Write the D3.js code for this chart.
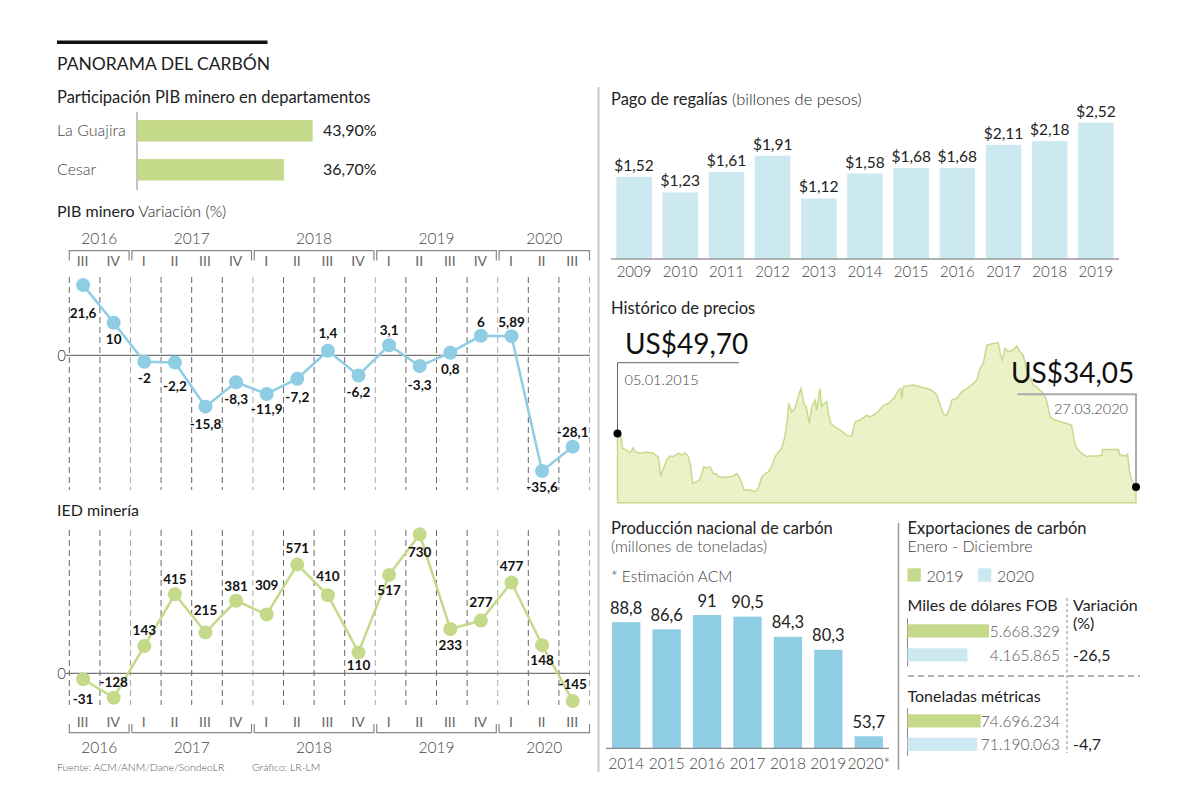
<!DOCTYPE html>
<html>
<head>
<meta charset="utf-8">
<script src="https://cdn.jsdelivr.net/npm/d3@7"></script>
<style>
  body { margin: 0; background: #fff; }
  svg { font-family: Lato, "Open Sans", sans-serif; }
</style>
</head>
<body>
<svg id="chart" width="1200" height="810"></svg>
<script>
// ---- data ----
const departamentos = ["La Guajira", "Cesar"]
const participacion = [43.9, 36.7]

const quarters = ["III","IV","I","II","III","IV","I","II","III","IV","I","II","III","IV","I","II","III"]
const years = ["2016", "2017", "2018", "2019", "2020"]
const yearQuarters = [2, 4, 4, 4, 3]
const pibVar = [21.6, 10, -2, -2.2, -15.8, -8.3, -11.9, -7.2, 1.4, -6.2, 3.1, -3.3, 0.8, 6, 5.89, -35.6, -28.1]
const iedValues = [-31, -128, 143, 415, 215, 381, 309, 571, 410, 110, 517, 730, 233, 277, 477, 148, -145]

const regaliasYears = ["2009","2010","2011","2012","2013","2014","2015","2016","2017","2018","2019"]
const regaliasValues = [1.52, 1.23, 1.61, 1.91, 1.12, 1.58, 1.68, 1.68, 2.11, 2.18, 2.52]

// days after 05.01.2015 and price in US$
const priceDays = [0, 11, 19, 34, 46, 58, 64, 83, 107, 132,
  138, 150, 159, 169, 181, 193, 205, 224, 236, 248,
  261, 269, 277, 291, 304, 318, 328, 340, 353, 365,
  371, 383, 402, 426, 439, 451, 466, 488, 506, 518,
  531, 543, 555, 567, 580, 592, 604, 616, 625, 630,
  641, 653, 665, 675, 686, 694, 706, 715, 727, 733,
  745, 751, 760, 770, 776, 785, 800, 819, 843, 862,
  874, 892, 917, 929, 941, 960, 978, 997, 1009, 1021,
  1033, 1042, 1046, 1052, 1064, 1089, 1113, 1138, 1156, 1175,
  1187, 1199, 1211, 1224, 1230, 1248, 1267, 1285, 1303, 1322,
  1334, 1346, 1359, 1371, 1383, 1401, 1410, 1417, 1426, 1438,
  1456, 1469, 1481, 1493, 1506, 1518, 1530, 1543, 1555, 1567,
  1579, 1592, 1610, 1628, 1653, 1671, 1680, 1690, 1708, 1727,
  1739, 1763, 1782, 1785, 1812, 1843, 1849, 1874, 1877, 1883,
  1892, 1908]
const priceUSD = [49.70, 49.2, 45.3, 44.8, 44.0, 45.5, 44.3, 44.0, 44.2, 44.0,
  43.4, 42.9, 37.3, 39.5, 41.9, 43.1, 42.9, 43.9, 43.4, 44.0,
  42.9, 40.0, 35.1, 35.6, 36.3, 40.0, 39.5, 40.0, 38.0, 37.8,
  37.0, 37.0, 36.9, 37.3, 38.0, 36.6, 33.2, 33.2, 32.7, 33.7,
  37.0, 38.0, 38.5, 40.0, 42.9, 44.3, 45.3, 48.7, 53.6, 58.4,
  56.0, 57.0, 60.4, 62.8, 58.4, 57.5, 52.6, 57.5, 59.4, 56.5,
  62.8, 57.5, 58.4, 58.9, 55.5, 52.6, 51.6, 50.7, 49.2, 48.9,
  53.1, 53.6, 55.0, 54.5, 55.0, 56.0, 57.9, 58.4, 59.4, 60.4,
  62.3, 62.8, 59.6, 63.3, 63.5, 63.8, 63.3, 62.8, 62.3, 60.9,
  58.0, 55.3, 55.0, 57.5, 59.4, 59.9, 61.8, 62.8, 63.8, 65.2,
  68.6, 70.1, 75.4, 75.7, 75.9, 76.1, 72.5, 71.1, 74.5, 73.5,
  74.0, 75.2, 73.5, 72.5, 68.2, 66.2, 63.8, 63.3, 62.3, 61.4,
  59.4, 54.5, 53.6, 53.1, 52.6, 52.1, 47.8, 45.3, 43.9, 42.9,
  43.1, 43.1, 43.4, 45.0, 45.0, 45.0, 43.4, 43.1, 43.9, 39.0,
  36.1, 34.05]

const produccionYears = ["2014","2015","2016","2017","2018","2019","2020*"]
const produccionValues = [88.8, 86.6, 91, 90.5, 84.3, 80.3, 53.7]

const exportSeries = ["2019", "2020"]
const exportFOB = [5668329, 4165865]
const exportTon = [74696234, 71190063]
const exportVar = [-26.5, -4.7]

// label placement around the points (text baseline offset)
const pibLabelDy = [33, 21, 21, 29, 22, 22, 20, 23, -13, 22, -10, 24, 21.5, -9, -9.5, 21, -10]
const iedLabelDy = [25, -10.5, -11, -10, -17, -10, -24, -12, -14, 18, 20, 23, 21, -14, -11, 20, -12]

const green = "#c5d98b", lightBlue = "#cce8f0", midBlue = "#8ecde4", gray = "#444"

const es = d3.formatLocale({decimal: ",", thousands: ".", grouping: [3], currency: ["$", ""], minus: "-"})
const fmtNum = es.format(".3~g")
const fmtInt = es.format(",")
const fmtPct = es.format(".2f")
const fmtCur = es.format("$.2f")
const fmtDate = d3.utcFormat("%d.%m.%Y")

const svg = d3.select("#chart")

function txt(x, y, s, size, weight, anchor, color) {
  return svg.append("text").attr("x", x).attr("y", y)
    .attr("font-size", size).attr("font-weight", weight || 400)
    .attr("text-anchor", anchor || "start").attr("fill", color || "#222").text(s)
}

// header
svg.append("rect").attr("x", 57).attr("y", 40.5).attr("width", 210.5).attr("height", 3.5).attr("fill", "#111")
txt(57, 69.5, "PANORAMA DEL CARBÓN", 17.5, 400)

// divider between columns
svg.append("line").attr("x1", 598.5).attr("x2", 598.5).attr("y1", 87).attr("y2", 772)
  .attr("stroke", "#c8c8c8").attr("stroke-width", 2)

// ---- Participación PIB minero ----
txt(57, 103, "Participación PIB minero en departamentos", 16.5, 400)
const xDep = d3.scaleLinear().domain([0, 50]).range([137.5, 337])
const yDep = d3.scaleBand().domain(departamentos).range([110.3, 190.3]).paddingInner(0.45).paddingOuter(0.25)
svg.append("line").attr("x1", 137).attr("x2", 137).attr("y1", 111.7).attr("y2", 190).attr("stroke", "#888")
departamentos.forEach((d, i) => {
  svg.append("rect").attr("x", xDep(0)).attr("y", yDep(d))
    .attr("width", xDep(participacion[i]) - xDep(0)).attr("height", yDep.bandwidth()).attr("fill", green)
  const cy = yDep(d) + yDep.bandwidth() / 2 + 5
  txt(57, cy, d, 16, 300, "start", gray)
  txt(323, cy, fmtPct(participacion[i]) + "%", 16, 400)
})

// ---- quarterly charts ----
const xq = d3.scaleBand().domain(d3.range(quarters.length)).range([69.3, 589.5])
const bw = xq.bandwidth()
const qx = i => xq(i) + bw / 2 - 1.5

function quarterChart(values, y, opts) {
  const g = svg.append("g")
  // dashed grid
  const starts = d3.cumsum([0].concat(yearQuarters))
  d3.range(quarters.length + 1).forEach(i => {
    const x = 69.3 + i * bw
    g.append("line").attr("x1", x).attr("x2", x).attr("y1", opts.top).attr("y2", opts.bottom)
      .attr("stroke", starts.includes(i) && i > 0 ? "#aaa" : "#666")
      .attr("stroke-width", 1).attr("stroke-dasharray", "6,4")
  })
  // zero line
  g.append("line").attr("x1", 66).attr("x2", 590).attr("y1", y(0)).attr("y2", y(0))
    .attr("stroke", "#777").attr("stroke-width", 1.3)
  g.append("text").attr("x", 66).attr("y", y(0) + 5.5).attr("text-anchor", "end")
    .attr("font-size", 15).attr("font-weight", 300).attr("fill", "#333").text("0")

  // year brackets and quarter labels
  years.forEach((yr, k) => {
    const x0 = xq(starts[k]) + (k > 0 ? 1.4 : 0)
    const x1 = xq(starts[k + 1] - 1) + bw - (k < years.length - 1 ? 1.4 : 0)
    g.append("path")
      .attr("d", `M${x0},${opts.tickEnd}V${opts.bracketY}H${x1}V${opts.tickEnd}`)
      .attr("fill", "none").attr("stroke", "#888").attr("stroke-width", 1.2)
    g.append("text").attr("x", (x0 + x1) / 2).attr("y", opts.yearY).attr("text-anchor", "middle")
      .attr("font-size", 15.5).attr("font-weight", 300).attr("fill", gray).text(yr)
  })
  quarters.forEach((q, i) => {
    g.append("text").attr("x", qx(i) - 0.5).attr("y", opts.quarterY).attr("text-anchor", "middle")
      .attr("font-size", 14).attr("font-weight", 400).attr("fill", "#666").text(q)
  })

  const line = d3.line().x((d, i) => qx(i)).y(d => y(d))
  g.append("path").datum(values).attr("d", line).attr("fill", "none")
    .attr("stroke", opts.color).attr("stroke-width", 2.5)
  g.selectAll("circle.pt").data(values).enter().append("circle")
    .attr("cx", (d, i) => qx(i)).attr("cy", d => y(d)).attr("r", 7).attr("fill", opts.color)
  g.selectAll("text.lbl").data(values).enter().append("text")
    .attr("x", (d, i) => qx(i)).attr("y", (d, i) => y(d) + opts.labelDy[i])
    .attr("text-anchor", "middle").attr("font-size", 13.5).attr("font-weight", 700)
    .attr("fill", "#111").text(d => fmtNum(d))
}

txt(57, 217, "PIB minero", 16, 400).append("tspan").attr("font-weight", 300).text(" Variación (%)")
const yPib = d3.scaleLinear().domain([-40, 25]).range([485.3, 274.05])
quarterChart(pibVar, yPib, {
  top: 277, bottom: 490, color: midBlue, labelDy: pibLabelDy,
  bracketY: 250.7, tickEnd: 260.5, yearY: 244, quarterY: 265.7
})

txt(57, 516, "IED minería", 16, 400)
const yIed = d3.scaleLinear().domain([-200, 800]).range([711.4, 521])
quarterChart(iedValues, yIed, {
  top: 530, bottom: 705, color: green, labelDy: iedLabelDy,
  bracketY: 732.7, tickEnd: 724, yearY: 753.3, quarterY: 727.3
})

txt(57, 771, "Fuente: ACM/ANM/Dane/SondeoLR", 10.5, 300, "start", "#555")
txt(252, 771, "Gráfico: LR-LM", 10.5, 300, "start", "#555")

// ---- Pago de regalías ----
txt(611, 105, "Pago de regalías", 16.5, 400).append("tspan").attr("font-weight", 300).text(" (billones de pesos)")
const xReg = d3.scaleBand().domain(regaliasYears).range([611, 1119]).paddingInner(0.23).paddingOuter(0.115)
const yReg = d3.scaleLinear().domain([0, 2.52]).range([259, 122.7])
regaliasYears.forEach((yr, i) => {
  const v = regaliasValues[i]
  svg.append("rect").attr("x", xReg(yr)).attr("y", yReg(v)).attr("width", xReg.bandwidth())
    .attr("height", yReg(0) - yReg(v)).attr("fill", lightBlue)
  txt(xReg(yr) + xReg.bandwidth() / 2, yReg(v) - 6, fmtCur(v), 15.5, 400, "middle", "#222")
  txt(xReg(yr) + xReg.bandwidth() / 2, 277, yr, 15, 300, "middle", gray)
})
svg.append("line").attr("x1", 611).attr("x2", 1119).attr("y1", 259).attr("y2", 259)
  .attr("stroke", "#999").attr("stroke-width", 1.5)

// ---- Histórico de precios ----
txt(611, 313.5, "Histórico de precios", 16.5, 400)
const priceStart = new Date(Date.UTC(2015, 0, 5))
const priceDates = priceDays.map(d => d3.utcDay.offset(priceStart, d))
const xPrice = d3.scaleUtc().domain([priceDates[0], priceDates[priceDates.length - 1]]).range([617.5, 1136])
const yPrice = d3.scaleLinear().domain([29.5, 80]).range([502.7, 329.5])
const priceArea = d3.area().x((d, i) => xPrice(priceDates[i])).y0(yPrice(29.5)).y1(d => yPrice(d))
svg.append("path").datum(priceUSD).attr("d", priceArea)
  .attr("fill", "#ebf2c8").attr("stroke", "#c6da8e").attr("stroke-width", 1.5)

const p0 = [xPrice(priceDates[0]), yPrice(priceUSD[0])]
const pn = [xPrice(priceDates[priceDates.length - 1]), yPrice(priceUSD[priceUSD.length - 1])]
svg.append("path").attr("d", `M${p0[0]},${p0[1]}V362.7H739`).attr("fill", "none")
  .attr("stroke", "#666").attr("stroke-width", 1)
svg.append("path").attr("d", `M1017.5,394.3H${pn[0]}V${pn[1]}`).attr("fill", "none")
  .attr("stroke", "#aaa").attr("stroke-width", 2)
svg.append("circle").attr("cx", p0[0]).attr("cy", p0[1]).attr("r", 4).attr("fill", "#000")
svg.append("circle").attr("cx", pn[0]).attr("cy", pn[1]).attr("r", 4).attr("fill", "#000")
txt(625, 353.5, "US$" + fmtPct(priceUSD[0]), 28, 400, "start", "#111")
txt(624.5, 384.5, fmtDate(priceDates[0]), 14.5, 300, "start", gray)
txt(1011, 383, "US$" + fmtPct(priceUSD[priceUSD.length - 1]), 28, 400, "start", "#111")
txt(1128, 413.5, fmtDate(priceDates[priceDates.length - 1]), 14.5, 300, "end", gray)

// ---- Producción nacional ----
txt(611, 534, "Producción nacional de carbón", 16.5, 400)
txt(611, 552, "(millones de toneladas)", 16, 300, "start", gray)
txt(611, 582, "* Estimación ACM", 15.5, 300, "start", gray)
const xProd = d3.scaleBand().domain(produccionYears).range([606, 889]).paddingInner(0.3).paddingOuter(0.15)
const yProd = d3.scaleLinear().domain([50, 100]).range([748.3, 585.8])
produccionYears.forEach((yr, i) => {
  const v = produccionValues[i]
  const cx = xProd(yr) + xProd.bandwidth() / 2
  svg.append("rect").attr("x", xProd(yr)).attr("y", yProd(v)).attr("width", xProd.bandwidth())
    .attr("height", yProd(50) - yProd(v)).attr("fill", midBlue)
  txt(cx, yProd(v) - 8.5, fmtNum(v), 16.5, 400, "middle", "#222")
  txt(cx, 768.5, yr, 15.5, 300, "middle", gray)
})
svg.append("line").attr("x1", 606).attr("x2", 889).attr("y1", 748.3).attr("y2", 748.3)
  .attr("stroke", "#888").attr("stroke-width", 1.2)

// ---- Exportaciones ----
svg.append("line").attr("x1", 898.5).attr("x2", 898.5).attr("y1", 523).attr("y2", 770)
  .attr("stroke", "#999").attr("stroke-width", 1.5)
txt(907.5, 534, "Exportaciones de carbón", 16.5, 400)
txt(907.5, 552, "Enero - Diciembre", 16, 300, "start", gray)
const legendColor = d3.scaleOrdinal().domain(exportSeries).range([green, lightBlue])
const legendX = d3.scalePoint().domain(exportSeries).range([907.5, 978])
exportSeries.forEach(s => {
  svg.append("rect").attr("x", legendX(s)).attr("y", 568.3).attr("width", 13.3).attr("height", 13.3)
    .attr("fill", legendColor(s))
  txt(legendX(s) + 19, 582, s, 16, 300, "start", gray)
})

txt(907.5, 611, "Miles de dólares FOB", 16, 400)
txt(1073, 611, "Variación", 16, 400)
txt(1073, 629, "(%)", 16, 400)
svg.append("line").attr("x1", 1067).attr("x2", 1067).attr("y1", 598).attr("y2", 753)
  .attr("stroke", "#888").attr("stroke-width", 1).attr("stroke-dasharray", "3,2.5")
svg.append("line").attr("x1", 908).attr("x2", 1140).attr("y1", 676).attr("y2", 676)
  .attr("stroke", "#999").attr("stroke-width", 1.5).attr("stroke-dasharray", "6,4")
txt(907.5, 702, "Toneladas métricas", 16, 400)

function exportBars(values, scale, yTops, varValue) {
  svg.append("line").attr("x1", 907.5).attr("x2", 907.5).attr("y1", yTops[0] - 6).attr("y2", yTops[1] + 18)
    .attr("stroke", "#888").attr("stroke-width", 1)
  values.forEach((v, i) => {
    svg.append("rect").attr("x", scale(0)).attr("y", yTops[i]).attr("width", scale(v) - scale(0))
      .attr("height", 13.2).attr("fill", legendColor(exportSeries[i]))
    txt(1060, yTops[i] + 12.5, fmtInt(v), 15.5, 300, "end", "#555")
  })
  txt(1073, yTops[1] + 12.5, fmtNum(varValue), 16, 400, "start", "#222")
}
const xFob = d3.scaleLinear().domain([0, 6e6]).range([907.5, 907.5 + 86.3])
const xTon = d3.scaleLinear().domain([0, 8e7]).range([907.5, 907.5 + 78.4])
exportBars(exportFOB, xFob, [624.3, 648.3], exportVar[0])
exportBars(exportTon, xTon, [714.3, 737.7], exportVar[1])
</script>
</body>
</html>
